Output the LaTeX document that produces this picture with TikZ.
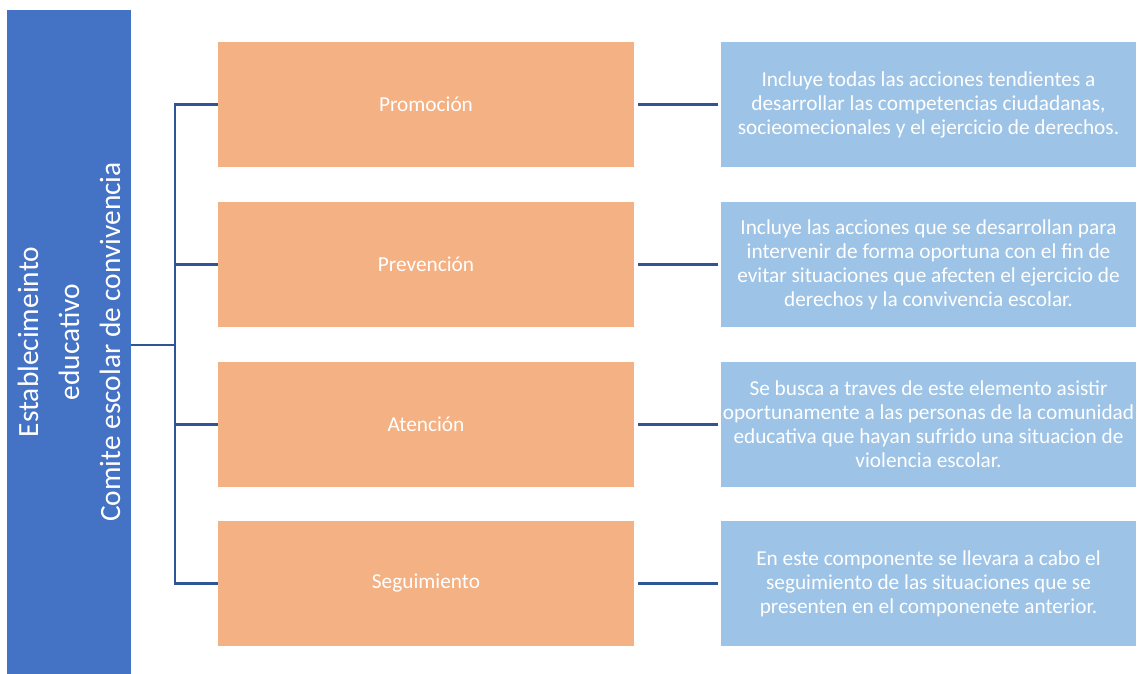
\documentclass[tikz,border=0pt]{standalone}
\usepackage{fontspec}
\setmainfont{Carlito}
\usepackage{tikz}

\definecolor{azul}{HTML}{4472C4}
\definecolor{naranja}{HTML}{F4B183}
\definecolor{celeste}{HTML}{9DC3E6}
\definecolor{linea}{HTML}{2F5597}

\tikzset{
    fase/.style={fill=naranja, minimum width=416pt, minimum height=125pt, text=white, font=\fontsize{21.3}{24}\selectfont},
    nota/.style={fill=celeste, minimum width=415pt, minimum height=125pt, inner xsep=0pt, text=white, align=center, font=\fontsize{21.3}{24}\selectfont},
    rama/.style={linea, line width=2.6pt}
}

\begin{document}
\begin{tikzpicture}[x=1pt, y=1pt]
    \useasboundingbox (0, 0) rectangle (1138, 674);

    \node[fill=azul, minimum width=124pt, minimum height=664pt] (comite) at (69, 332) {};
    \node[rotate=90, text=white, align=center, font=\fontsize{29.4}{41}\selectfont] at (comite.center) {Establecimeinto\\educativo\\Comite escolar de convivencia};

    \node[fase] (promo) at (426, 569.5) {Promoción};
    \node[fase] (preve) at (426, 409.5) {Prevención};
    \node[fase] (aten) at (426, 249.5) {Atención};
    \node[fase] (segui) at (426, 90.5) {Seguimiento};

    \node[nota] (npromo) at (928.5, 569.5) {Incluye todas las acciones tendientes a\\desarrollar las competencias ciudadanas,\\socieomecionales y el ejercicio de derechos.};
    \node[nota] (npreve) at (928.5, 409.5) {Incluye las acciones que se desarrollan para\\intervenir de forma oportuna con el fin de\\evitar situaciones que afecten el ejercicio de\\derechos y la convivencia escolar.};
    \node[nota] (naten) at (928.5, 249.5) {Se busca a traves de este elemento asistir\\oportunamente a las personas de la comunidad\\educativa que hayan sufrido una situacion de\\violencia escolar.};
    \node[nota] (nsegui) at (928.5, 90.5) {En este componente se llevara a cabo el\\seguimiento de las situaciones que se\\presenten en el componenete anterior.};

    \coordinate (tronco) at (175, 329);
    \draw[rama] (comite.east |- tronco) -- (tronco);
    \draw[rama] (promo.west) -| (tronco) |- (segui.west);
    \draw[rama] (preve.west) -- (tronco |- preve.west);
    \draw[rama] (aten.west) -- (tronco |- aten.west);

    \draw[rama, shorten <=4pt, shorten >=3pt] (promo.east) -- (npromo.west);
    \draw[rama, shorten <=4pt, shorten >=3pt] (preve.east) -- (npreve.west);
    \draw[rama, shorten <=4pt, shorten >=3pt] (aten.east) -- (naten.west);
    \draw[rama, shorten <=4pt, shorten >=3pt] (segui.east) -- (nsegui.west);
\end{tikzpicture}
\end{document}
